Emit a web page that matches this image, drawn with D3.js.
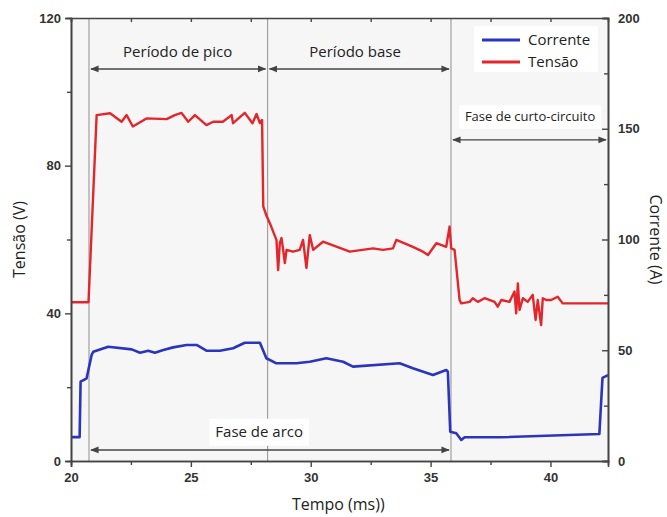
<!DOCTYPE html>
<html>
<head>
<meta charset="utf-8">
<script src="https://cdn.jsdelivr.net/npm/d3@7"></script>
<style>
  body { margin: 0; background: #fff; }
  svg { display: block; }
</style>
</head>
<body>
<div id="root"></div>
<script>
// dados
var tempoTensao = [20.0, 20.73, 21.07, 21.63, 22.11, 22.32, 22.58, 23.15, 23.99, 24.33, 24.61, 24.89, 25.17, 25.65, 25.93, 26.33, 26.70, 26.76, 27.25, 27.57, 27.74, 27.88, 27.97,
  28.02, 28.15, 28.29, 28.57, 28.64, 28.71, 28.78, 28.85, 28.92, 28.99, 29.26, 29.54, 29.68, 29.82, 29.96, 30.10, 30.51, 31.63, 32.60, 33.01, 33.43, 33.57, 34.26, 34.68, 34.89, 35.24, 35.65, 35.79, 35.86, 36.00,
  36.21, 36.28, 36.63, 36.76, 36.97, 37.25, 37.67, 37.80, 37.95, 38.29, 38.50, 38.57, 38.64, 38.71, 38.85, 39.05, 39.26, 39.38, 39.47, 39.61, 39.68, 39.82, 40.03, 40.30, 40.51, 42.4];
var tensao = [43, 43, 93.7, 94.2, 91.9, 93.7, 90.6, 92.8, 92.6, 93.7, 94.3, 91.9, 93.7, 91.0, 91.9, 91.9, 93.7, 91.5, 94.3, 91.5, 94.0, 91.5, 92.4,
  69.0, 66.5, 64.5, 59.9, 51.7, 59.0, 60.4, 57.2, 53.6, 57.2, 56.7, 57.2, 59.9, 52.3, 61.2, 57.2, 59.4, 56.7, 57.6, 57.2, 57.6, 59.9, 58.0, 56.7, 55.8, 59.0, 58.0, 63.5, 57.6, 57.2,
  43.6, 42.7, 43.1, 44.1, 43.1, 44.1, 43.1, 41.8, 43.6, 43.1, 45.9, 40.0, 48.1, 40.9, 44.1, 43.1, 45.0, 38.2, 43.6, 36.8, 44.1, 43.6, 43.6, 44.5, 42.7, 42.7];

var tempoCorrente = [20.0, 20.36, 20.40, 20.58, 20.65, 20.86, 20.93, 21.55, 22.53, 22.88, 23.22, 23.5, 23.85, 24.26, 24.82, 25.24, 25.65, 26.21, 26.76, 27.25, 27.88,
  28.15, 28.57, 29.40, 29.96, 30.65, 31.35, 31.76, 33.71, 34.26, 35.10, 35.65, 35.72, 35.82, 36.07, 36.28, 36.42, 37.88, 42.04, 42.17, 42.4];
var corrente = [10.8, 10.8, 35.8, 36.9, 37.3, 47.9, 49.3, 51.6, 50.4, 48.9, 49.8, 48.9, 50.1, 51.3, 52.4, 52.4, 49.8, 49.8, 50.9, 53.4, 53.4,
  46.4, 44.1, 44.1, 44.8, 46.4, 44.8, 42.6, 44.1, 41.9, 38.8, 41.1, 40.3, 13.2, 12.5, 9.5, 10.7, 10.7, 12.2, 37.5, 38.8];

var ticksTempo = [20, 25, 30, 35, 40];
var ticksTensao = [0, 40, 80, 120];
var ticksCorrente = [0, 50, 100, 150, 200];

// limites das fases (ms)
var fases = [20.75, 28.2, 35.85];

var W = 667, H = 517;
var margin = {top: 18, right: 59, bottom: 56, left: 71};
var w = W - margin.left - margin.right,
    h = H - margin.top - margin.bottom;

var svg = d3.select('#root').append('svg').attr('width', W).attr('height', H);
var g = svg.append('g').attr('transform', 'translate(' + margin.left + ',' + margin.top + ')');

var x = d3.scaleLinear().domain([20, 42.4]).range([0, w]);
var yV = d3.scaleLinear().domain([0, 120]).range([h, 0]);
var yA = d3.scaleLinear().domain([0, 200]).range([h, 0]);

// fundo
g.append('rect').attr('width', w).attr('height', h).attr('fill', '#f6f6f6');

// setas
var defs = svg.append('defs');
defs.append('marker')
  .attr('id', 'seta')
  .attr('viewBox', '0 0 10 10')
  .attr('refX', 9).attr('refY', 5)
  .attr('markerWidth', 6).attr('markerHeight', 6)
  .attr('orient', 'auto-start-reverse')
  .append('path').attr('d', 'M0,1 L10,5 L0,9 Z').attr('fill', '#444');

// linhas verticais das fases
g.selectAll('.fase')
  .data(fases)
  .enter()
  .append('line')
  .attr('x1', d => x(d)).attr('x2', d => x(d))
  .attr('y1', 0).attr('y2', h)
  .attr('stroke', '#a0a0a0').attr('stroke-width', 1.2);

function seta(t0, t1, v) {
  g.append('line')
    .attr('x1', x(t0) + 2).attr('x2', x(t1) - 2)
    .attr('y1', yV(v)).attr('y2', yV(v))
    .attr('stroke', '#444').attr('stroke-width', 1.4)
    .attr('marker-start', 'url(#seta)')
    .attr('marker-end', 'url(#seta)');
}

function rotulo(t, v, txt, size, caixa) {
  if (caixa) {
    var tmp = g.append('text').attr('font-family', 'Open Sans').attr('font-size', size).text(txt);
    var bw = tmp.node().getComputedTextLength();
    tmp.remove();
    g.append('rect')
      .attr('x', x(t) - bw / 2 - 6).attr('y', yV(v) - size * 0.9)
      .attr('width', bw + 12).attr('height', size * 1.8)
      .attr('fill', '#fff');
  }
  g.append('text')
    .attr('x', x(t)).attr('y', yV(v))
    .attr('text-anchor', 'middle').attr('dy', '0.35em')
    .attr('font-family', 'Open Sans').attr('font-size', size)
    .attr('fill', '#222')
    .text(txt);
}

seta(fases[0], fases[1], 106.2);
seta(fases[1], fases[2], 106.2);
seta(fases[2], 42.4, 87);
seta(fases[0], fases[2], 3);

rotulo(24.45, 110.8, 'Período de pico', 15, false);
rotulo(31.85, 110.8, 'Período base', 15, false);
rotulo(39.15, 93.2, 'Fase de curto-circuito', 13, true);
rotulo(27.85, 7.8, 'Fase de arco', 15, true);

// curvas
var linhaV = d3.line().x((d, i) => x(tempoTensao[i])).y(d => yV(d));
var linhaA = d3.line().x((d, i) => x(tempoCorrente[i])).y(d => yA(d));

g.append('path').datum(tensao)
  .attr('d', linhaV).attr('fill', 'none')
  .attr('stroke', '#e3262b').attr('stroke-width', 2.4).attr('stroke-linejoin', 'round');

g.append('path').datum(corrente)
  .attr('d', linhaA).attr('fill', 'none')
  .attr('stroke', '#2b34bd').attr('stroke-width', 2.6).attr('stroke-linejoin', 'round');

// eixos
function estilo(sel) {
  sel.select('.domain').attr('stroke', '#444').attr('stroke-width', 1.6);
  sel.selectAll('.tick line').attr('stroke', '#444').attr('stroke-width', 1.4);
  sel.selectAll('text')
    .attr('font-family', 'Liberation Sans').attr('font-weight', 'bold')
    .attr('font-size', 13).attr('fill', '#333');
}

var minorT = d3.range(22.5, 42.4, 5);
g.append('g').attr('transform', 'translate(0,' + h + ')')
  .call(d3.axisBottom(x).tickValues(minorT).tickSize(4).tickFormat(''))
  .call(estilo);
g.append('g').attr('transform', 'translate(0,' + h + ')')
  .call(d3.axisBottom(x).tickValues(ticksTempo).tickSize(6).tickPadding(6).tickFormat(d3.format('d')))
  .call(estilo);
g.append('g')
  .call(d3.axisTop(x).tickValues(minorT.concat(ticksTempo)).tickSize(-4).tickFormat(''))
  .call(estilo);

g.append('g')
  .call(d3.axisLeft(yV).tickValues([20, 60, 100]).tickSize(4).tickFormat(''))
  .call(estilo);
g.append('g')
  .call(d3.axisLeft(yV).tickValues(ticksTensao).tickSize(6).tickPadding(4))
  .call(estilo);

g.append('g').attr('transform', 'translate(' + w + ',0)')
  .call(d3.axisRight(yA).tickValues([25, 75, 125, 175]).tickSize(-4).tickFormat(''))
  .call(estilo);
g.append('g').attr('transform', 'translate(' + w + ',0)')
  .call(d3.axisRight(yA).tickValues(ticksCorrente).tickSize(-6).tickPadding(10))
  .call(estilo);

// titulos dos eixos
svg.append('text')
  .attr('transform', 'translate(19,' + (margin.top + h / 2) + ') rotate(-90)')
  .attr('text-anchor', 'middle').attr('dy', '0.35em')
  .attr('font-family', 'Open Sans').attr('font-size', 16).attr('fill', '#222')
  .text('Tensão (V)');

svg.append('text')
  .attr('transform', 'translate(656,' + (margin.top + h / 2) + ') rotate(90)')
  .attr('text-anchor', 'middle').attr('dy', '0.35em')
  .attr('font-family', 'Open Sans').attr('font-size', 16).attr('fill', '#222')
  .text('Corrente (A)');

svg.append('text')
  .attr('x', margin.left + x(31.15)).attr('y', 504)
  .attr('text-anchor', 'middle').attr('dy', '0.35em')
  .attr('font-family', 'Open Sans').attr('font-size', 16).attr('fill', '#222')
  .text('Tempo (ms))');

// legenda
var legenda = [
  {nome: 'Corrente', cor: '#2b34bd'},
  {nome: 'Tensão', cor: '#e3262b'}
];
var leg = svg.append('g').attr('transform', 'translate(482,40)');
leg.append('rect').attr('x', -8).attr('y', -14).attr('width', 124).attr('height', 46).attr('fill', '#fff');
var item = leg.selectAll('.item').data(legenda).enter().append('g')
  .attr('transform', (d, i) => 'translate(0,' + i * 22 + ')');
item.append('line').attr('x1', 0).attr('x2', 38)
  .attr('stroke', d => d.cor).attr('stroke-width', 3);
item.append('text').attr('x', 46).attr('dy', '0.35em')
  .attr('font-family', 'Open Sans').attr('font-size', 15).attr('fill', '#222')
  .text(d => d.nome);
</script>
</body>
</html>
